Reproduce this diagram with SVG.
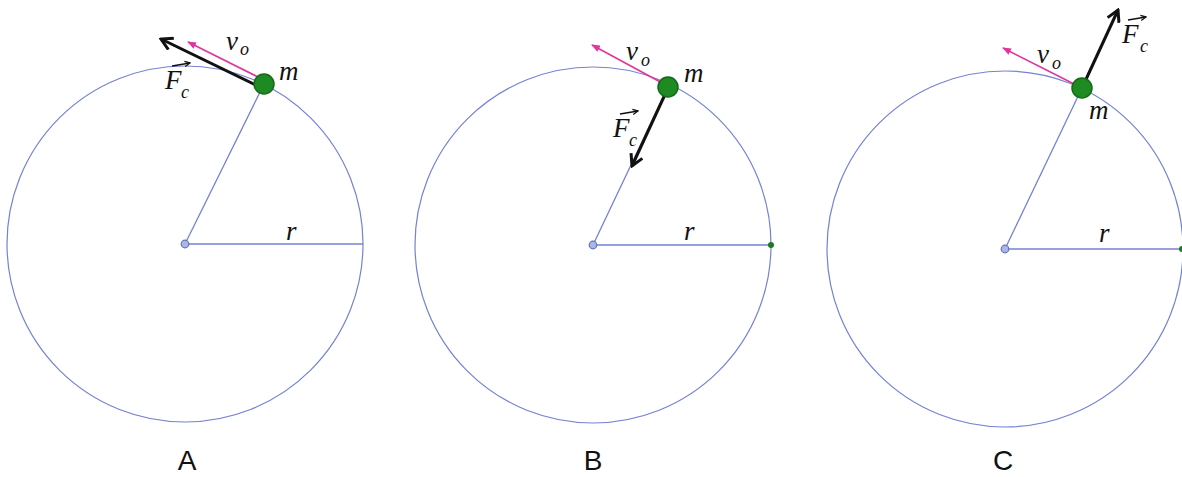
<svg xmlns="http://www.w3.org/2000/svg" width="1182" height="477" viewBox="0 0 1182 477">
<style>
.orbit{fill:none;stroke:#7482d4;stroke-width:1.2}
.rad{stroke:#7482d4;stroke-width:1.3}
.ctr{fill:#a9b6e6;stroke:#6574b8;stroke-width:1.2}
.mass{fill:#1d8a22;stroke:#146a18;stroke-width:1.5}
.end{fill:#1d7a22}
.vel{stroke:#e0359c;stroke-width:1.6;marker-end:url(#pk)}
.force{stroke:#111;stroke-width:3;marker-end:url(#bk)}
.vec{stroke:#111;stroke-width:1.5;marker-end:url(#sm)}
.lbl{font-family:"Liberation Serif",serif;font-style:italic;fill:#111}
.big{font-size:27px}
.sub{font-size:18px}
.cap{font-family:"Liberation Sans",Arial,sans-serif;font-size:28px;fill:#111;text-anchor:middle}
</style>
<defs>
<marker id="bk" viewBox="0 0 12 12" refX="10.5" refY="6" markerWidth="15" markerHeight="15" markerUnits="userSpaceOnUse" orient="auto">
<path d="M1.5,1 L10.5,6 L1.5,11" fill="none" stroke="#111" stroke-width="2.4" stroke-linejoin="miter"/>
</marker>
<marker id="pk" viewBox="0 0 10 8" refX="9" refY="4" markerWidth="9" markerHeight="7" markerUnits="userSpaceOnUse" orient="auto">
<path d="M0,0 L10,4 L0,8 Z" fill="#e0359c"/>
</marker>
<marker id="sm" viewBox="0 0 8 8" refX="7" refY="4" markerWidth="7" markerHeight="7" markerUnits="userSpaceOnUse" orient="auto">
<path d="M1,1 L7,4 L1,7" fill="none" stroke="#111" stroke-width="1.5"/>
</marker>
</defs>
<rect width="1182" height="477" fill="#fff"/>

<g id="panelA">
<circle class="orbit" cx="185" cy="244" r="178"/>
<line class="rad" x1="185" y1="244" x2="363" y2="244"/>
<line class="rad" x1="185" y1="244" x2="264" y2="84"/>
<circle class="ctr" cx="185" cy="244" r="3.8"/>
<line class="vel" x1="260" y1="78" x2="188" y2="42"/>
<line class="force" x1="262" y1="88" x2="161" y2="39"/>
<circle class="mass" cx="264" cy="84" r="10"/>
<text class="lbl big" x="226" y="50">v</text><text class="lbl sub" x="240" y="55">o</text>
<text class="lbl big" x="165" y="89">F</text><text class="lbl sub" x="181" y="98">c</text>
<line class="vec" x1="172" y1="66" x2="190" y2="63"/>
<text class="lbl big" x="279" y="80">m</text>
<text class="lbl big" x="286" y="240">r</text>
<text class="cap" x="187" y="470">A</text>
</g>

<g id="panelB">
<circle class="orbit" cx="593" cy="245" r="178"/>
<line class="rad" x1="593" y1="245" x2="771" y2="245"/>
<line class="rad" x1="593" y1="245" x2="668" y2="87"/>
<circle class="ctr" cx="593" cy="245" r="3.8"/>
<circle class="end" cx="771" cy="245" r="3"/>
<line class="vel" x1="664" y1="84" x2="592" y2="45"/>
<line class="force" x1="668" y1="88" x2="632" y2="166"/>
<circle class="mass" cx="668" cy="87" r="10"/>
<text class="lbl big" x="626" y="60">v</text><text class="lbl sub" x="641" y="66">o</text>
<text class="lbl big" x="613" y="137">F</text><text class="lbl sub" x="629" y="146">c</text>
<line class="vec" x1="620" y1="114" x2="638" y2="111"/>
<text class="lbl big" x="684" y="82">m</text>
<text class="lbl big" x="684" y="240">r</text>
<text class="cap" x="593" y="470">B</text>
</g>

<g id="panelC">
<circle class="orbit" cx="1005" cy="249" r="178"/>
<line class="rad" x1="1005" y1="249" x2="1183" y2="249"/>
<line class="rad" x1="1005" y1="249" x2="1082" y2="88"/>
<circle class="ctr" cx="1005" cy="249" r="3.8"/>
<circle class="end" cx="1182" cy="249" r="3"/>
<line class="vel" x1="1078" y1="86" x2="1003" y2="48"/>
<line class="force" x1="1082" y1="88" x2="1118" y2="10"/>
<circle class="mass" cx="1082" cy="88" r="10"/>
<text class="lbl big" x="1037" y="63">v</text><text class="lbl sub" x="1052" y="69">o</text>
<text class="lbl big" x="1122" y="43">F</text><text class="lbl sub" x="1140" y="52">c</text>
<line class="vec" x1="1128" y1="20" x2="1146" y2="17"/>
<text class="lbl big" x="1089" y="119">m</text>
<text class="lbl big" x="1099" y="242">r</text>
<text class="cap" x="1003" y="470">C</text>
</g>

<g id="connectors"></g>
</svg>
